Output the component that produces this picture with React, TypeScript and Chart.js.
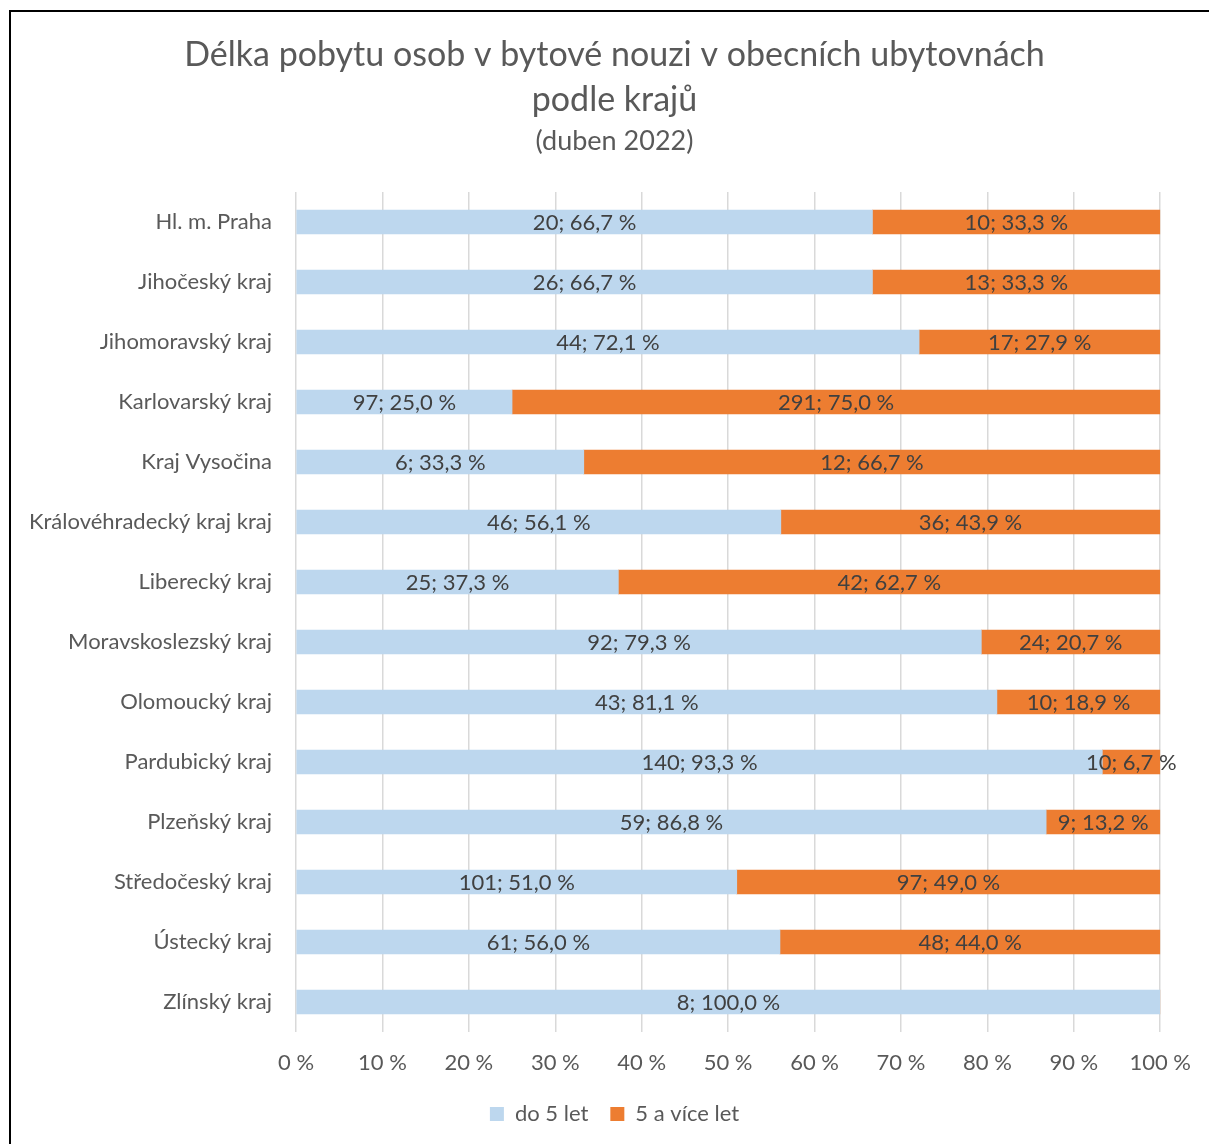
import React, { useEffect, useRef } from 'react';
import { Chart, registerables } from 'chart.js';

Chart.register(...registerables);

const categories = [
  'Hl. m. Praha',
  'Jihočeský kraj',
  'Jihomoravský kraj',
  'Karlovarský kraj',
  'Kraj Vysočina',
  'Královéhradecký kraj kraj',
  'Liberecký kraj',
  'Moravskoslezský kraj',
  'Olomoucký kraj',
  'Pardubický kraj',
  'Plzeňský kraj',
  'Středočeský kraj',
  'Ústecký kraj',
  'Zlínský kraj',
];
const seriesNames = ['do 5 let', '5 a více let'];
const under5Counts = [20, 26, 44, 97, 6, 46, 25, 92, 43, 140, 59, 101, 61, 8];
const over5Counts = [10, 13, 17, 291, 12, 36, 42, 24, 10, 10, 9, 97, 48, 0];
const under5Pct = [66.7, 66.7, 72.1, 25.0, 33.3, 56.1, 37.3, 79.3, 81.1, 93.3, 86.8, 51.0, 56.0, 100.0];
const over5Pct = [33.3, 33.3, 27.9, 75.0, 66.7, 43.9, 62.7, 20.7, 18.9, 6.7, 13.2, 49.0, 44.0, 0];
const seriesColors = ['#BDD7EE', '#ED7D31'];
const titleLines = ['Délka pobytu osob v bytové nouzi v obecních ubytovnách', 'podle krajů'];
const subtitleText = '(duben 2022)';

const FONT = 'Lato, "Open Sans", sans-serif';
const LABEL_SIZE = 22;

const fmt = (n: number) => n.toFixed(1).replace('.', ',');

const dataLabelPlugin = {
  id: 'segLabels',
  afterDatasetsDraw(chart: any) {
    const ctx = chart.ctx;
    const counts = [under5Counts, over5Counts];
    ctx.save();
    ctx.font = `${LABEL_SIZE}px ${FONT}`;
    ctx.fillStyle = '#404040';
    ctx.textAlign = 'center';
    ctx.textBaseline = 'middle';
    chart.data.datasets.forEach((ds: any, di: number) => {
      const meta = chart.getDatasetMeta(di);
      meta.data.forEach((el: any, i: number) => {
        const v = ds.data[i];
        if (!v) return;
        const { x, y, base } = el.getProps(['x', 'y', 'base'], true);
        ctx.fillText(`${counts[di][i]}; ${fmt(v)} %`, (x + base) / 2, y + 1);
      });
    });
    ctx.restore();
  },
};

export default function App() {
  const ref = useRef<HTMLCanvasElement>(null);
  useEffect(() => {
    if (!ref.current) return;
    const chart = new Chart(ref.current, {
      type: 'bar',
      data: {
        labels: categories,
        datasets: [
          { label: seriesNames[0], data: under5Pct, backgroundColor: seriesColors[0], barThickness: 24 },
          { label: seriesNames[1], data: over5Pct, backgroundColor: seriesColors[1], barThickness: 24 },
        ],
      },
      options: {
        indexAxis: 'y',
        animation: false,
        responsive: false,
        maintainAspectRatio: false,
        layout: { padding: { left: 20, right: 0, top: 0, bottom: 9 } },
        scales: {
          x: {
            stacked: true,
            min: 0,
            max: 100,
            ticks: {
              stepSize: 10,
              padding: 18,
              color: '#595959',
              font: { family: FONT, size: LABEL_SIZE },
              callback: (v: any) => `${v} %`,
            },
            grid: { color: '#D9D9D9', lineWidth: 1.5, drawTicks: false },
            border: { display: false },
            afterFit: (s: any) => { s.height = 49; },
          },
          y: {
            stacked: true,
            ticks: {
              padding: 24,
              color: '#595959',
              font: { family: FONT, size: LABEL_SIZE },
            },
            grid: { display: false, drawTicks: false },
            border: { display: false },
            afterFit: (s: any) => { s.width = 276; },
          },
          spacer: {
            type: 'linear',
            position: 'right',
            display: true,
            ticks: { display: false },
            grid: { display: false, drawTicks: false },
            border: { display: false },
            afterFit: (s: any) => { s.width = 48; },
          },
        },
        plugins: {
          title: {
            display: true,
            text: titleLines,
            color: '#595959',
            font: { family: FONT, size: 34, weight: 'normal', lineHeight: 45 / 34 },
            padding: { top: 32.5, bottom: 0 },
          },
          subtitle: {
            display: true,
            text: subtitleText,
            color: '#595959',
            font: { family: FONT, size: 27, weight: 'normal', lineHeight: 1.2 },
            padding: { top: 2.3, bottom: 34.8 },
          },
          legend: {
            position: 'bottom',
            labels: {
              boxWidth: 14,
              boxHeight: 14,
              padding: 22,
              color: '#595959',
              font: { family: FONT, size: LABEL_SIZE },
            },
          },
          tooltip: { enabled: false },
        },
      },
      plugins: [dataLabelPlugin],
    } as any);
    return () => chart.destroy();
  }, []);

  return (
    <div style={{ position: 'fixed', left: 0, top: 0, width: 1209, height: 1144, overflow: 'hidden', background: '#fff' }}>
      <canvas ref={ref} width={1209} height={1144} style={{ position: 'absolute', left: 0, top: 0, width: 1209, height: 1144 }} />
      <div style={{ position: 'absolute', left: 9, top: 10, width: 1400, height: 1400, borderLeft: '2px solid #000', borderTop: '2px solid #000', pointerEvents: 'none' }} />
    </div>
  );
}
